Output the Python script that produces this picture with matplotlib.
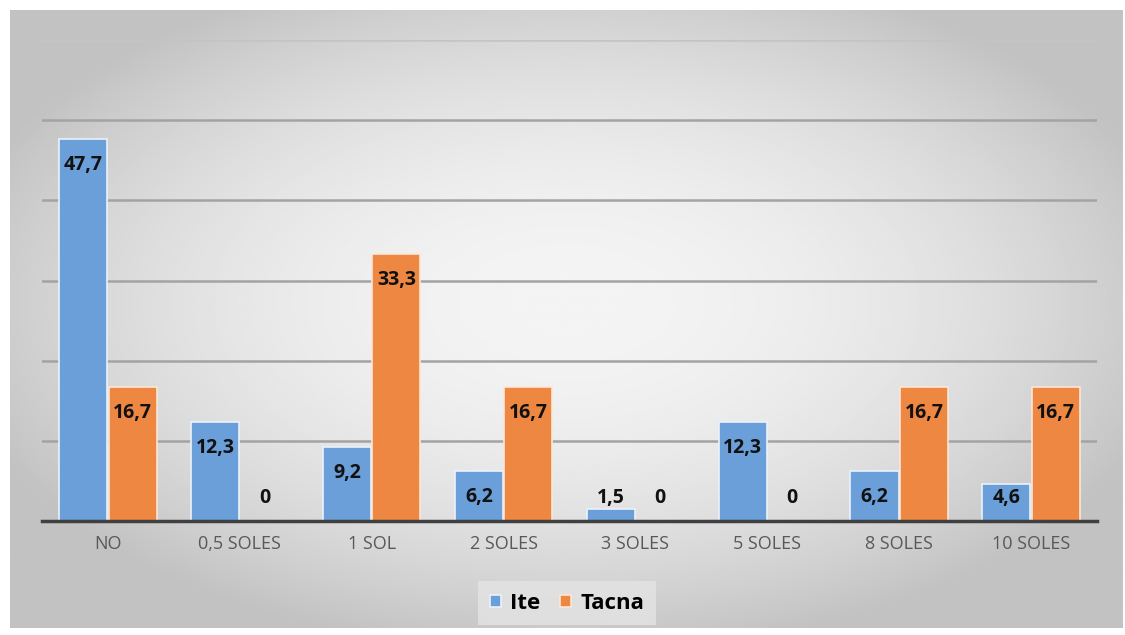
from matplotlib import pyplot as plt
import numpy as np

categorias = ['NO', '0,5 SOLES', '1 SOL', '2 SOLES', '3 SOLES', '5 SOLES', '8 SOLES', '10 SOLES']
ite = [47.7, 12.3, 9.2, 6.2, 1.5, 12.3, 6.2, 4.6]
tacna = [16.7, 0, 33.3, 16.7, 0, 0, 16.7, 16.7]

plt.rcParams['font.family'] = ['Open Sans', 'DejaVu Sans']

fig = plt.figure(figsize=(11.25, 6.35), dpi=100)
fig.patch.set_facecolor('white')

# fondo con degradado radial (como en excel)
bg = fig.add_axes([10/1125, 7/635, 1113/1125, 618/635])
yy, xx = np.mgrid[-1:1:300j, -1:1:500j]
r = np.sqrt(xx**2 + (yy + 0.05)**2)
grad = np.clip(0.955 - 0.15 * r**2, 0.76, 1)
bg.imshow(grad, cmap='gray', vmin=0, vmax=1, aspect='auto', extent=[0, 1, 0, 1])
bg.set_axis_off()

ax = fig.add_axes([42/1125, 114/635, 1055/1125, 481/635])
ax.patch.set_alpha(0)

x = np.arange(len(categorias))
w = 0.365
b1 = ax.bar(x - w/2 - 0.005, ite, w, color='#6A9FD9', edgecolor='#eaf2fb', linewidth=1.2, label='Ite', zorder=3)
b2 = ax.bar(x + w/2 + 0.005, tacna, w, color='#EE8741', edgecolor='#fbe7d8', linewidth=1.2, label='Tacna', zorder=3)

for bars, vals in [(b1, ite), (b2, tacna)]:
    for rect, v in zip(bars, vals):
        cx = rect.get_x() + rect.get_width()/2
        txt = '0' if v == 0 else f'{v:.1f}'.replace('.', ',')
        ax.annotate(txt, (cx, max(v, 6.1)), xytext=(0, -26), textcoords='offset pixels',
                    ha='center', va='center', fontsize=14, fontweight='bold',
                    color='#111111', zorder=4)

ax.set_xlim(-0.5, len(categorias) - 0.5)
ax.set_ylim(0, 60)
ax.set_yticks(np.arange(10, 61, 10))
ax.yaxis.grid(True, color='#a3a3a3', linewidth=1.8, zorder=0)
ax.get_ygridlines()[-1].set_color('#c4c4c4')
ax.tick_params(axis='y', left=False, labelleft=False)
ax.set_xticks(x)
ax.set_xticklabels(categorias, fontsize=13, color='#595959')
ax.tick_params(axis='x', length=0, pad=10)
for s in ['top', 'right', 'left']:
    ax.spines[s].set_visible(False)
ax.spines['bottom'].set_color('#404040')
ax.spines['bottom'].set_linewidth(2.5)
ax.spines['bottom'].set_zorder(5)

leg = fig.legend(loc='center', bbox_to_anchor=(0.504, 0.05), ncol=2, frameon=True,
                 prop={'weight': 'bold', 'size': 16}, handlelength=0.5, handleheight=0.5,
                 handletextpad=0.4, columnspacing=0.9, borderpad=0.4)
leg.get_frame().set_facecolor('#e4e4e4')
leg.get_frame().set_edgecolor('none')
leg.get_frame().set_boxstyle('square', pad=0.12)

plt.savefig('out.png', dpi=100)
